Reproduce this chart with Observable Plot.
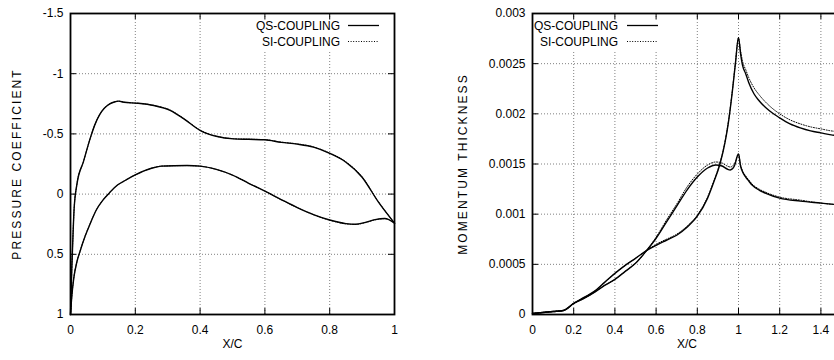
<!DOCTYPE html>
<html><head><meta charset="utf-8">
<script src="https://cdn.jsdelivr.net/npm/d3@7"></script>
<script src="https://cdn.jsdelivr.net/npm/@observablehq/plot@0.6"></script>
<style>
html,body{margin:0;padding:0;background:#fff;overflow:hidden;}
body{width:834px;height:360px;position:relative;font-family:"Liberation Sans",Arial,sans-serif;}
#left{position:absolute;left:0;top:0;width:414px;}
#right{position:absolute;left:414px;top:0;width:437px;}
svg{max-width:none !important;}
</style></head><body>
<div id="left"></div><div id="right"></div>
<script>
// ---------- Left panel: pressure coefficient ----------
const cpXTicks = [0, 0.2, 0.4, 0.6, 0.8, 1];
const cpYTicks = [-1.5, -1, -0.5, 0, 0.5, 1];

const cpUpperX = [0, 0.004, 0.008, 0.011, 0.02, 0.04, 0.062, 0.075, 0.09, 0.105, 0.12, 0.135, 0.149, 0.165, 0.206, 0.257, 0.309, 0.35, 0.401, 0.453, 0.504, 0.55, 0.6, 0.65, 0.7, 0.75, 0.8, 0.85, 0.9, 0.95, 1.0];
const cpUpperQS = [1.0, 0.62, 0.32, 0.13, -0.085, -0.27, -0.473, -0.575, -0.66, -0.715, -0.748, -0.765, -0.772, -0.763, -0.755, -0.736, -0.694, -0.625, -0.528, -0.478, -0.459, -0.455, -0.451, -0.43, -0.415, -0.39, -0.338, -0.265, -0.14, 0.065, 0.241];
const cpUpperSI = [1.0, 0.62, 0.32, 0.13, -0.085, -0.27, -0.473, -0.575, -0.66, -0.715, -0.748, -0.765, -0.772, -0.763, -0.755, -0.737, -0.696, -0.627, -0.53, -0.479, -0.46, -0.456, -0.452, -0.432, -0.417, -0.392, -0.341, -0.268, -0.143, 0.062, 0.241];

const cpLowerX = [0, 0.004, 0.01, 0.02, 0.03, 0.045, 0.06, 0.08, 0.1, 0.12, 0.145, 0.17, 0.2, 0.25, 0.28, 0.32, 0.36, 0.4, 0.45, 0.5, 0.55, 0.6, 0.65, 0.7, 0.75, 0.8, 0.85, 0.88, 0.91, 0.94, 0.97, 1.0];
const cpLowerQS = [1.0, 0.85, 0.7, 0.56, 0.47, 0.35, 0.25, 0.13, 0.05, -0.01, -0.075, -0.115, -0.16, -0.215, -0.232, -0.236, -0.237, -0.232, -0.205, -0.158, -0.09, -0.024, 0.045, 0.112, 0.17, 0.215, 0.245, 0.25, 0.235, 0.212, 0.203, 0.241];
const cpLowerSI = [1.0, 0.85, 0.7, 0.56, 0.47, 0.35, 0.25, 0.13, 0.05, -0.01, -0.075, -0.115, -0.16, -0.215, -0.232, -0.236, -0.237, -0.232, -0.205, -0.158, -0.09, -0.024, 0.046, 0.113, 0.172, 0.217, 0.247, 0.252, 0.237, 0.214, 0.204, 0.241];

// ---------- Right panel: momentum thickness ----------
const thXTicks = [0, 0.2, 0.4, 0.6, 0.8, 1, 1.2, 1.4];
const thYTicks = [0, 0.0005, 0.001, 0.0015, 0.002, 0.0025, 0.003];

const thAX = [0, 0.05, 0.1, 0.15, 0.2, 0.25, 0.3, 0.35, 0.4, 0.45, 0.5, 0.555, 0.6, 0.65, 0.7, 0.75, 0.8, 0.85, 0.88, 0.91, 0.935, 0.95, 0.97, 0.985, 1.0, 1.01, 1.02, 1.035, 1.05, 1.075, 1.1, 1.15, 1.2, 1.25, 1.3, 1.35, 1.4, 1.45, 1.5];
const thAQS = [0.00001, 0.00002, 0.00003, 0.00004, 0.00011, 0.00017, 0.00023, 0.00032, 0.00041, 0.00049, 0.00056, 0.00064, 0.00069, 0.00074, 0.00079, 0.00087, 0.00098, 0.00116, 0.00132, 0.0015, 0.00172, 0.0019, 0.00222, 0.0025, 0.00276, 0.0026, 0.00248, 0.0024, 0.00231, 0.0022, 0.00213, 0.00203, 0.00196, 0.0019, 0.00186, 0.00183, 0.00181, 0.00179, 0.00178];
const thASI = [0.00001, 0.00002, 0.00003, 0.00004, 0.00011, 0.00017, 0.00023, 0.00032, 0.00041, 0.00049, 0.00056, 0.00064, 0.0007, 0.00075, 0.0008, 0.00088, 0.00099, 0.00117, 0.00133, 0.00151, 0.00173, 0.00191, 0.00223, 0.00251, 0.00276, 0.00263, 0.00252, 0.00244, 0.00236, 0.00226, 0.00219, 0.00208, 0.002, 0.00194, 0.0019, 0.00187, 0.00185, 0.00183, 0.00182];

const thBX = [0, 0.05, 0.1, 0.15, 0.2, 0.25, 0.3, 0.35, 0.4, 0.45, 0.5, 0.555, 0.6, 0.65, 0.7, 0.75, 0.8, 0.85, 0.89, 0.92, 0.945, 0.96, 0.98, 1.0, 1.01, 1.02, 1.035, 1.05, 1.066, 1.1, 1.13, 1.2, 1.3, 1.4, 1.5];
const thBQS = [0.00001, 0.00002, 0.00003, 0.00004, 0.00011, 0.00016, 0.00022, 0.00029, 0.00035, 0.00043, 0.00051, 0.00064, 0.00076, 0.00092, 0.00108, 0.00124, 0.00137, 0.00146, 0.00149, 0.00148, 0.00145, 0.00144, 0.00148, 0.0016, 0.00148, 0.00142, 0.00137, 0.00133, 0.00129, 0.00124, 0.00121, 0.00116, 0.00113, 0.00111, 0.00109];
const thBSI = [0.00001, 0.00002, 0.00003, 0.00004, 0.00011, 0.00016, 0.00022, 0.00029, 0.00035, 0.00043, 0.00051, 0.00064, 0.00077, 0.00094, 0.0011, 0.00127, 0.0014, 0.00149, 0.00152, 0.00151, 0.00148, 0.00147, 0.0015, 0.0016, 0.00149, 0.00143, 0.00138, 0.00134, 0.0013, 0.00125, 0.00122, 0.00117, 0.00114, 0.00111, 0.00109];

const seriesNames = ["QS-COUPLING", "SI-COUPLING"];

function rows(xs, ys, curve, method) {
  return xs.map((x, i) => ({x, y: ys[i], curve, method}));
}
const cpData = [
  ...rows(cpUpperX, cpUpperQS, "upper", seriesNames[0]),
  ...rows(cpLowerX, cpLowerQS, "lower", seriesNames[0]),
  ...rows(cpUpperX, cpUpperSI, "upper", seriesNames[1]),
  ...rows(cpLowerX, cpLowerSI, "lower", seriesNames[1])
];
const thData = [
  ...rows(thAX, thAQS, "A", seriesNames[0]),
  ...rows(thBX, thBQS, "B", seriesNames[0]),
  ...rows(thAX, thASI, "A", seriesNames[1]),
  ...rows(thBX, thBSI, "B", seriesNames[1])
];

const FONT = "'Liberation Sans', Arial, Helvetica, sans-serif";
const GRID = {stroke: "#808080", strokeDasharray: "1,2", strokeWidth: 1};

function panel({data, xDomain, yDomain, xTicks, yTicks, width, marginLeft, marginRight, yLabel, yLabelDx}) {
  const H = 360, mt = 13, mb = 46;
  const ph = H - mt - mb;
  const pw = width - marginLeft - marginRight;
  const fmt = d => String(d);
  return Plot.plot({
    width, height: H, marginLeft, marginRight, marginTop: mt, marginBottom: mb,
    style: {fontFamily: FONT, fontSize: "12px", color: "#000", background: "#fff", overflow: "visible", maxWidth: "none"},
    x: {domain: xDomain, axis: null},
    y: {domain: yDomain, axis: null},
    marks: [
      Plot.ruleX(xTicks, {x: d => d, ...GRID}),
      Plot.ruleY(yTicks, {y: d => d, ...GRID}),
      Plot.ruleX(xTicks, {x: d => d, stroke: "#000", insetTop: ph - 6}),
      Plot.ruleX(xTicks, {x: d => d, stroke: "#000", insetBottom: ph - 6}),
      Plot.ruleY(yTicks, {y: d => d, stroke: "#000", insetRight: pw - 6}),
      Plot.ruleY(yTicks, {y: d => d, stroke: "#000", insetLeft: pw - 6}),
      Plot.line(data.filter(d => d.method === seriesNames[0]), {x: "x", y: "y", z: "curve", stroke: "#000", strokeWidth: 1.4, curve: "monotone-x"}),
      Plot.line(data.filter(d => d.method === seriesNames[1]), {x: "x", y: "y", z: "curve", stroke: "#000", strokeWidth: 1, strokeDasharray: "1,1.6", curve: "monotone-x"}),
      Plot.frame({stroke: "#000", strokeWidth: 1.8}),
      Plot.text(xTicks, {x: d => d, text: fmt, frameAnchor: "bottom", dy: 19, fill: "#000", fontSize: 12}),
      Plot.text(yTicks, {y: d => d, text: fmt, frameAnchor: "left", dx: -7, textAnchor: "end", fill: "#000", fontSize: 12}),
      Plot.text(["X/C"], {text: d => d, frameAnchor: "bottom", dy: 33, fill: "#000", fontSize: 12}),
      Plot.text([yLabel], {text: d => d, frameAnchor: "left", dx: yLabelDx, rotate: -90, textAnchor: "middle", fill: "#000", fontSize: 12, className: "ylab"})
    ]
  });
}

function legend(svg, rectX, rectW, textRight, lineX1, lineX2) {
  const g = d3.select(svg).append("g").attr("font-family", FONT).attr("font-size", 12);
  g.append("rect").attr("x", rectX).attr("y", 20).attr("width", rectW).attr("height", 30).attr("fill", "#fff");
  const ys = [25.5, 41.5];
  seriesNames.forEach((name, i) => {
    g.append("text").attr("x", textRight).attr("y", ys[i]).attr("dy", "0.35em").attr("text-anchor", "end").attr("fill", "#000").text(name);
    g.append("line").attr("x1", lineX1).attr("x2", lineX2).attr("y1", ys[i]).attr("y2", ys[i])
      .attr("stroke", "#000").attr("stroke-width", i === 0 ? 1.3 : 1).attr("stroke-dasharray", i === 0 ? null : "1,1.6");
  });
}

const left = panel({
  data: cpData, xDomain: [0, 1], yDomain: [1, -1.5], xTicks: cpXTicks, yTicks: cpYTicks,
  width: 414, marginLeft: 70, marginRight: 20, yLabel: "PRESSURE COEFFICIENT", yLabelDx: -53
});
legend(left, 250, 136, 340, 348, 379);
left.style.maxWidth = "none";
document.getElementById("left").appendChild(left);

const right = panel({
  data: thData, xDomain: [0, 1.5], yDomain: [0, 0.003], xTicks: thXTicks, yTicks: thYTicks,
  width: 437, marginLeft: 118, marginRight: 10, yLabel: "MOMENTUM THICKNESS", yLabelDx: -69
});
legend(right, 120, 132, 204, 213, 244);
right.style.maxWidth = "none";
document.getElementById("right").appendChild(right);

d3.selectAll(".ylab text").attr("letter-spacing", "2.1px");
</script>
</body></html>
